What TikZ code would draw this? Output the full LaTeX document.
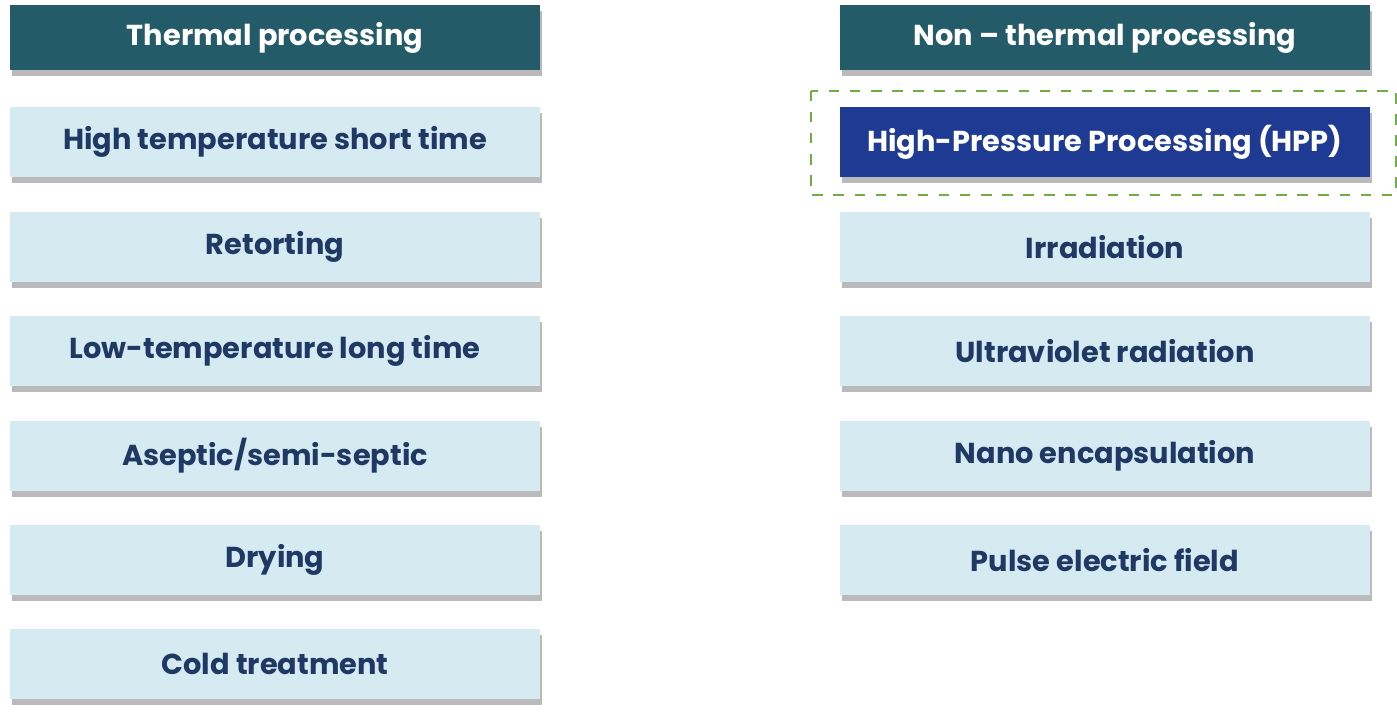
\documentclass[tikz,border=0pt]{standalone}
\usepackage{fontspec}
\setmainfont{Poppins}
\usetikzlibrary{positioning,shadows}
\definecolor{headteal}{HTML}{245B68}
\definecolor{itemblue}{HTML}{D5EAF1}
\definecolor{textnavy}{HTML}{1F3864}
\definecolor{hppblue}{HTML}{1F3A93}
\definecolor{dashgreen}{HTML}{70AD47}
\tikzset{%
  % Specifications for style of boxes:
          base/.style = {rectangle, minimum width=5.3cm, minimum height=0.7cm,
                         inner xsep=1pt, text centered, font=\fontsize{8.2}{9}\selectfont\bfseries,
                         drop shadow={shadow xshift=0.2mm, shadow yshift=-0.6mm, fill=black!45, opacity=0.6}},
        header/.style = {base, minimum height=0.65cm, fill=headteal, text=white},
          item/.style = {base, fill=itemblue, text=textnavy},
       hilight/.style = {base, fill=hppblue, text=white},
}
\begin{document}
\begin{tikzpicture}[node distance=0.33cm]
  \useasboundingbox (0,0) rectangle (13.97,-7.16);
  % Thermal column
  \node (thermal)    [header] at (2.75,-0.375) {Thermal processing};
  \node (htst)       [item, below=0.36cm of thermal] {High temperature short time};
  \node (retort)     [item, below=of htst] {Retorting};
  \node (ltlt)       [item, below=of retort] {Low-temperature long time};
  \node (aseptic)    [item, below=of ltlt] {Aseptic/semi-septic};
  \node (drying)     [item, below=of aseptic] {Drying};
  \node (cold)       [item, below=of drying] {Cold treatment};

  % Non-thermal column
  \node (nonthermal) [header] at (11.05,-0.375) {Non – thermal processing};
  \node (hpp)        [hilight, below=0.36cm of nonthermal] {High-Pressure Processing (HPP)};
  \node (irrad)      [item, below=of hpp] {Irradiation};
  \node (uv)         [item, below=of irrad] {Ultraviolet radiation};
  \node (nano)       [item, below=of uv] {Nano encapsulation};
  \node (pef)        [item, below=of nano] {Pulse electric field};

  \draw[dashgreen, dashed, line width=0.6pt] ([shift={(-0.28,0.16)}]hpp.north west) rectangle ([shift={(0.25,-0.17)}]hpp.south east);
\end{tikzpicture}
\end{document}
